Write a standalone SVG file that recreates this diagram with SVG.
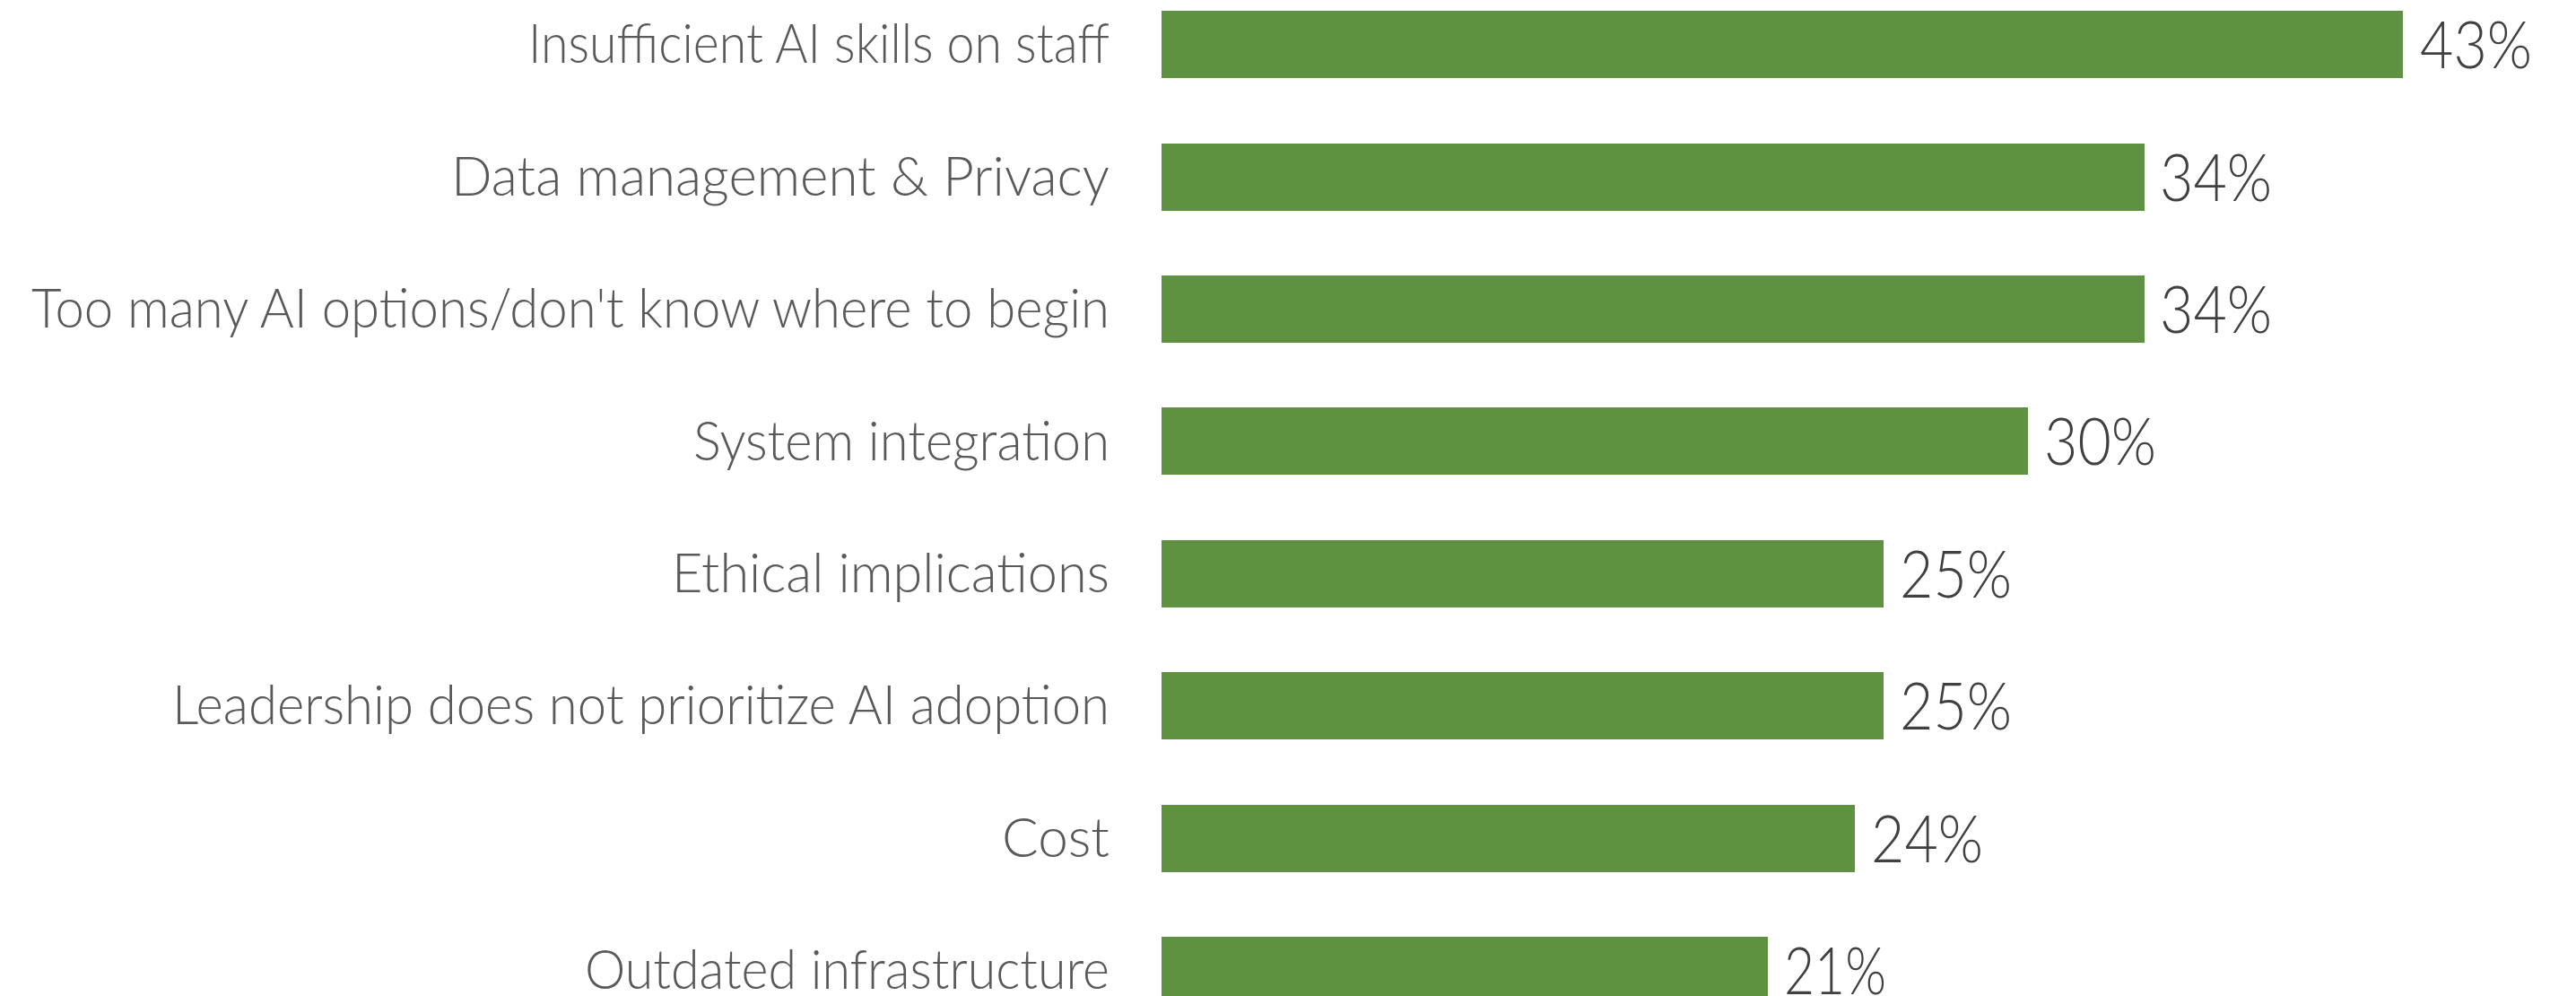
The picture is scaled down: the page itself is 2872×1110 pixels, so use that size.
<svg xmlns="http://www.w3.org/2000/svg" width="2872" height="1110" viewBox="0 0 2872 1110">
<style>
.bar{fill:#5E9142}
.lbl{font-family:Lato,"Liberation Sans",sans-serif;font-weight:300;font-size:62px;fill:#595959;text-anchor:end}
.val{font-family:Lato,"Liberation Sans",sans-serif;font-weight:300;font-size:73px;fill:#404040}
</style>
<rect width="2872" height="1110" fill="#ffffff"/>
<g id="row1"><rect class="bar" x="1295" y="12" width="1384" height="75"/><text class="lbl" x="1237" y="70" textLength="648" lengthAdjust="spacingAndGlyphs">Insufficient AI skills on staff</text><text class="val" x="2698" y="76" textLength="125" lengthAdjust="spacingAndGlyphs">43%</text></g>
<g id="row2"><rect class="bar" x="1295" y="160" width="1096" height="75"/><text class="lbl" x="1237" y="218" textLength="734" lengthAdjust="spacingAndGlyphs">Data management &amp; Privacy</text><text class="val" x="2408" y="224" textLength="125" lengthAdjust="spacingAndGlyphs">34%</text></g>
<g id="row3"><rect class="bar" x="1295" y="307" width="1096" height="75"/><text class="lbl" x="1237" y="365" textLength="1202" lengthAdjust="spacingAndGlyphs">Too many AI options/don't know where to begin</text><text class="val" x="2408" y="371" textLength="125" lengthAdjust="spacingAndGlyphs">34%</text></g>
<g id="row4"><rect class="bar" x="1295" y="454" width="966" height="75"/><text class="lbl" x="1237" y="513" textLength="464" lengthAdjust="spacingAndGlyphs">System integration</text><text class="val" x="2279" y="518" textLength="125" lengthAdjust="spacingAndGlyphs">30%</text></g>
<g id="row5"><rect class="bar" x="1295" y="602" width="805" height="75"/><text class="lbl" x="1237" y="660" textLength="488" lengthAdjust="spacingAndGlyphs">Ethical implications</text><text class="val" x="2118" y="666" textLength="125" lengthAdjust="spacingAndGlyphs">25%</text></g>
<g id="row6"><rect class="bar" x="1295" y="749" width="805" height="75"/><text class="lbl" x="1237" y="807" textLength="1045" lengthAdjust="spacingAndGlyphs">Leadership does not prioritize AI adoption</text><text class="val" x="2118" y="813" textLength="125" lengthAdjust="spacingAndGlyphs">25%</text></g>
<g id="row7"><rect class="bar" x="1295" y="897" width="773" height="75"/><text class="lbl" x="1237" y="955" textLength="120" lengthAdjust="spacingAndGlyphs">Cost</text><text class="val" x="2086" y="961" textLength="125" lengthAdjust="spacingAndGlyphs">24%</text></g>
<g id="row8"><rect class="bar" x="1295" y="1044" width="676" height="75"/><text class="lbl" x="1237" y="1102" textLength="585" lengthAdjust="spacingAndGlyphs">Outdated infrastructure</text><text class="val" x="1989" y="1108" textLength="114" lengthAdjust="spacingAndGlyphs">21%</text></g>
<g id="connectors"></g>
</svg>
